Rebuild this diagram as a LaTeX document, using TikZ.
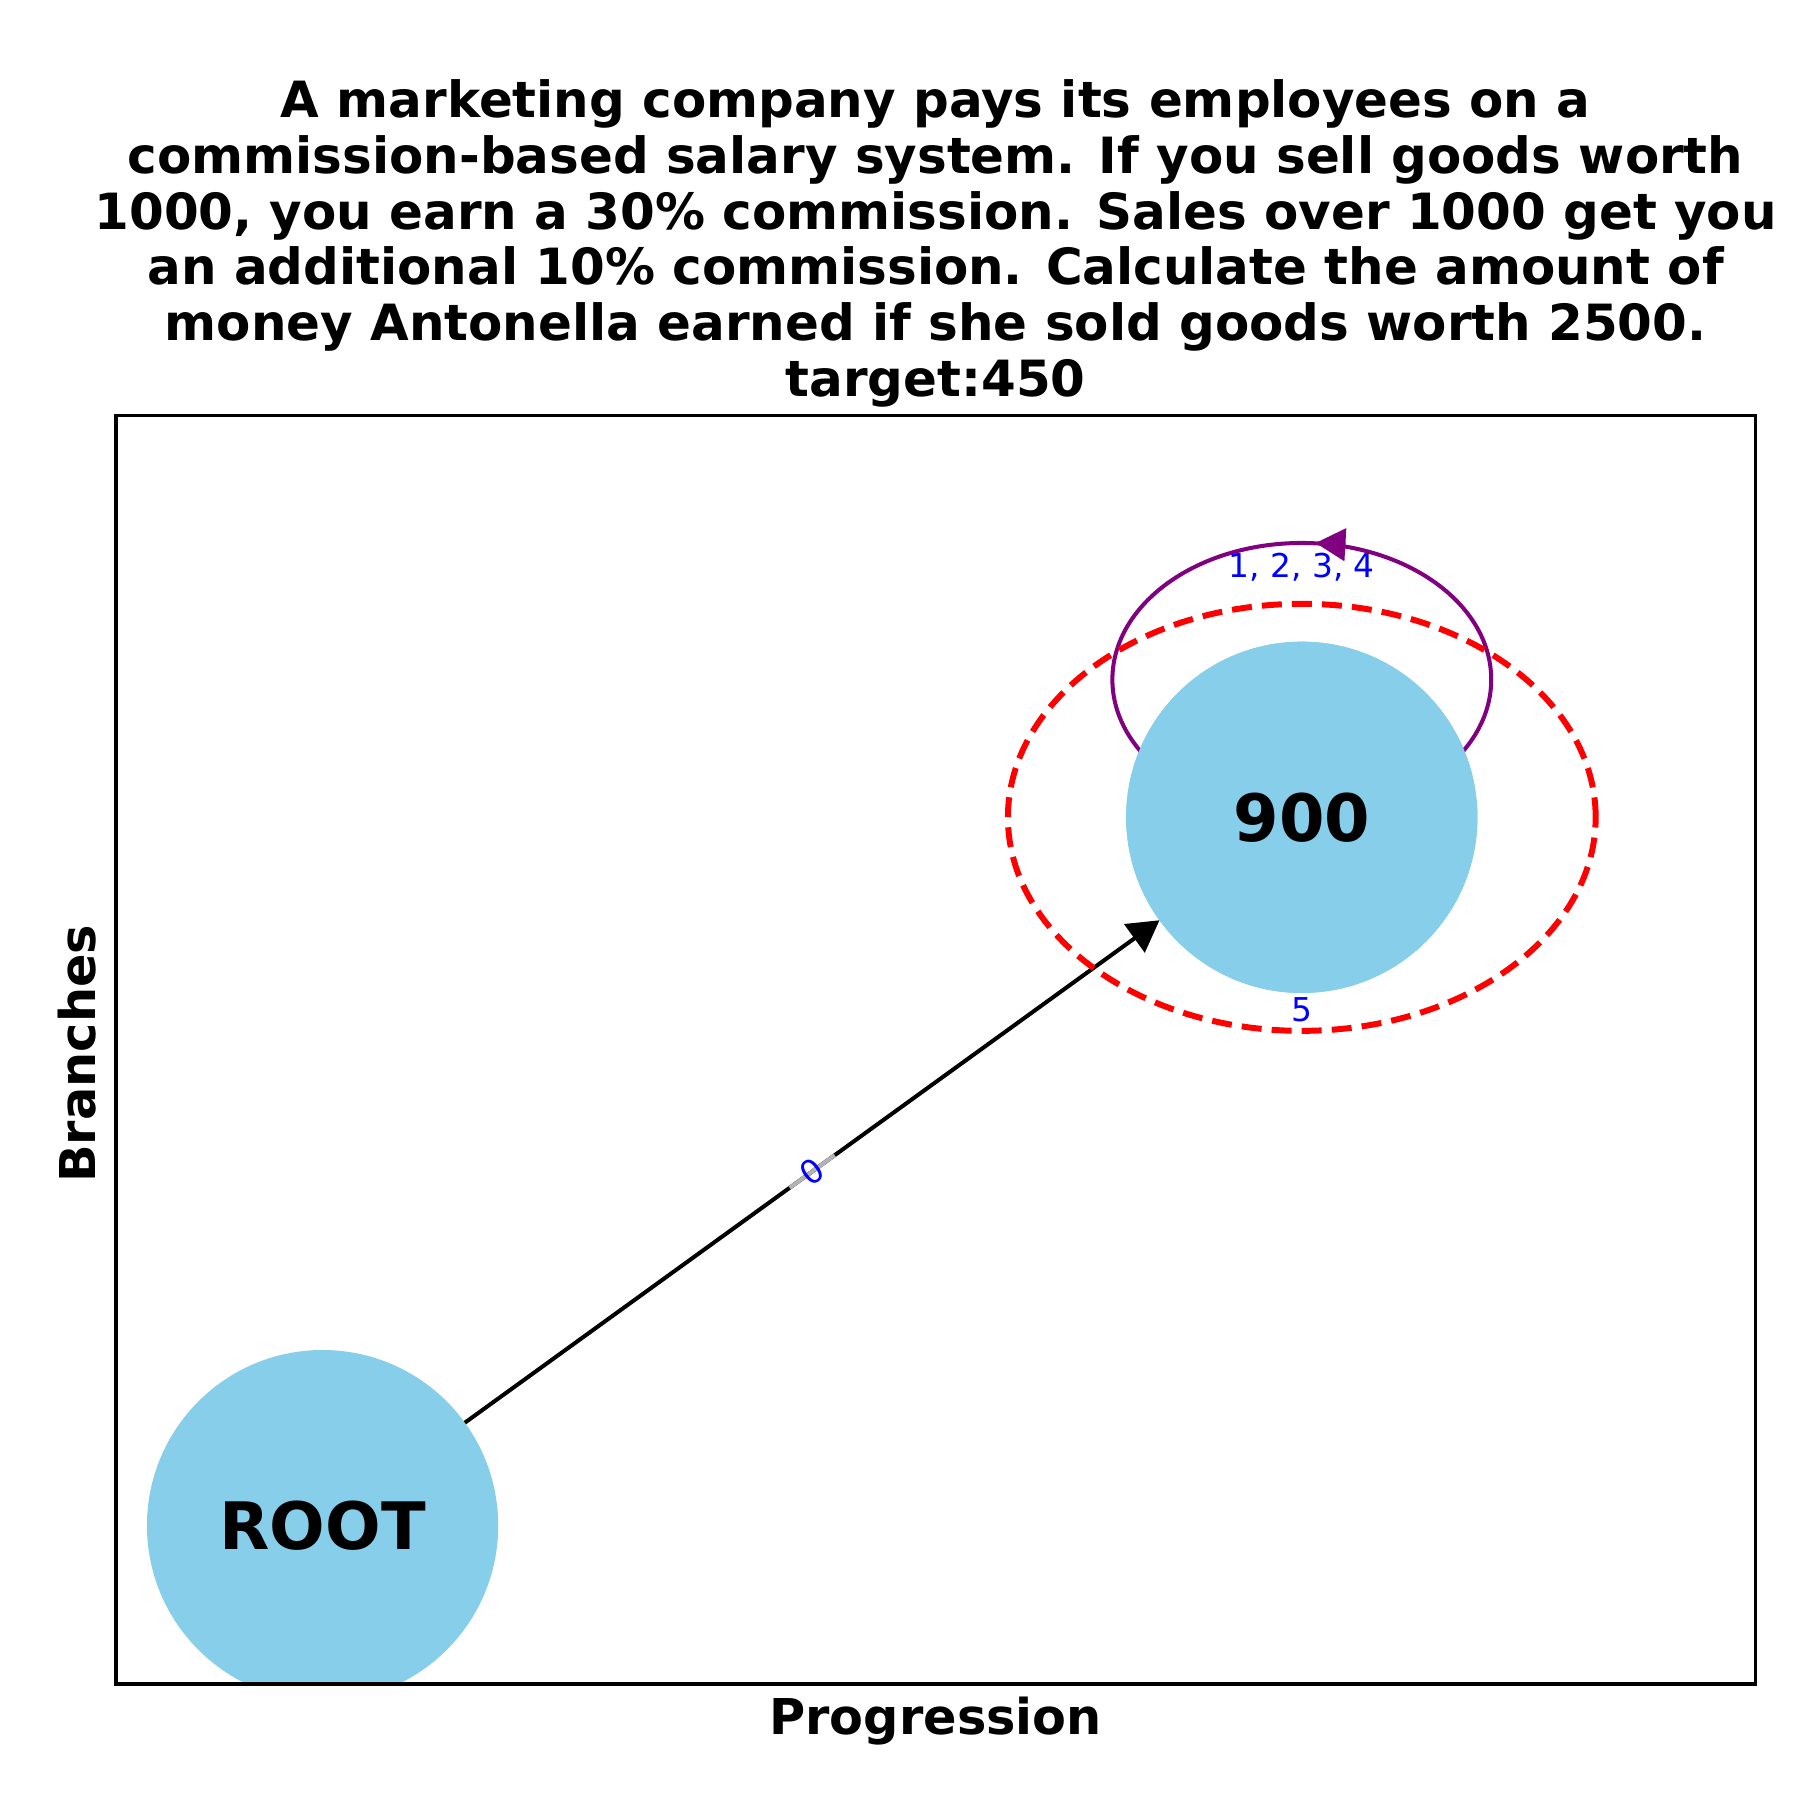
\documentclass[tikz,border=0pt]{standalone}
\usepackage{fontspec}
\setmainfont{DejaVu Sans}
\usetikzlibrary{arrows.meta,calc}
\definecolor{skyb}{HTML}{87CEEB}
\definecolor{purp}{HTML}{800080}
\definecolor{lgray}{HTML}{B3B3B3}
\begin{document}
\begin{tikzpicture}[x=0.5pt,y=0.5pt,
  nodec/.style={circle, fill=skyb, minimum size=153pt, inner sep=0pt, outer sep=0pt,
    font=\bfseries\fontsize{28.5}{34}\selectfont},
  edgec/.style={line width=1.75pt, -{Triangle[length=13.5pt,width=15pt]}},
  loopc/.style={line width=1.75pt, draw=purp},
  elabel/.style={text=blue, font=\fontsize{14.3}{17}\selectfont, inner sep=1pt},
  axlabel/.style={font=\bfseries\fontsize{21.5}{26}\selectfont},
  ringc/.style={draw=red, line width=2.6pt, dash pattern=on 8.7pt off 4.4pt}]
\useasboundingbox (0,0) rectangle (1568,1568);
\coordinate (fbl) at (101,101);
\coordinate (ftr) at (1529,1206);
% nodes
\begin{scope}
\clip (fbl) rectangle (ftr);
\node[nodec] (root) at (281,239) {ROOT};
\end{scope}
\node[nodec] (n900) at (1134,856) {};
% self loop (behind the node)
\draw[loopc] ([yshift=60pt]n900.center) ellipse [x radius=82.5pt, y radius=59.5pt];
\coordinate (looptip) at ([shift={(12,239)}]n900.center);
\draw[loopc, -{Triangle[length=13pt,width=14pt]}] ([shift={(26,-1.5)}]looptip) -- (looptip);
% redraw node on top of loop
\node[nodec] (n900b) at (n900) {900};
% edge
\draw[edgec] (root) -- (n900);
\draw[lgray, line width=1.75pt] ($(root.center)!0.477!(n900.center)$) -- ($(root.center)!0.523!(n900.center)$);
\node[elabel, rotate=35.9] (l0) at ($(root.center)!0.5!(n900.center)$) {0};
% red ring
\draw[ringc] (n900.center) ellipse [x radius=128pt, y radius=93pt];
% edge labels
\node[elabel] (l1) at ([yshift=109pt]n900.center) {1, 2, 3, 4};
\node[elabel] (l5) at ([yshift=-84pt]n900.center) {5};
% frame
\draw[line width=1.45pt] (fbl) rectangle (ftr);
% axis labels
\node[axlabel] (xl) at (815,69) {Progression};
\node[axlabel, rotate=90] (yl) at (67,650) {Branches};
% title
\node[align=center, font=\bfseries\fontsize{21.75}{24.3}\selectfont] (title) at (815,1356)
 {A marketing company pays its employees on a\\
  commission-based salary system. If you sell goods worth\\
  1000, you earn a 30\% commission. Sales over 1000 get you\\
  an additional 10\% commission. Calculate the amount of\\
  money Antonella earned if she sold goods worth 2500.\\
  target:450};
\end{tikzpicture}
\end{document}
